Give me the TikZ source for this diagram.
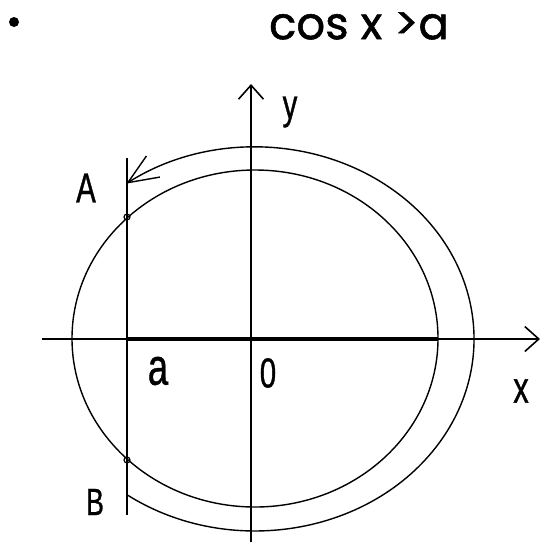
\documentclass[tikz,border=0pt]{standalone}
\usepackage{fontspec}
\setmainfont{Liberation Sans}
\newfontfamily\labelfont[FakeStretch=0.7, FakeBold=0.8]{Liberation Sans}
\newfontfamily\titlefont[FakeBold=1.2]{Poppins}
\usetikzlibrary{arrows.meta}

\begin{document}
\begin{tikzpicture}[x=1pt, y=-1pt,
  axis/.style={line width=1.6pt, -{Straight Barb[length=14pt, width=25pt]}},
  curve/.style={line width=1.4pt},
  turn/.style={line width=1.4pt, -{Straight Barb[length=30pt, width=25pt]}},
  interval/.style={line width=4.5pt},
  mark point/.style={line width=1.2pt},
  caption/.style={font=\labelfont\fontsize{42}{46}\selectfont, inner sep=0pt},
  heading/.style={font=\titlefont\fontsize{45}{50}\selectfont, inner sep=0pt}]
  \useasboundingbox (0,0) rectangle (543,542);
  % heading
  \node[circle, fill, inner sep=0pt, minimum size=10pt] (bullet) at (14,22) {};
  \node[heading] (title) at (359,26) {cos x >a};
  % axes
  \coordinate (xstart) at (42,339);
  \coordinate (xend) at (540,339);
  \coordinate (ystart) at (251,542);
  \coordinate (yend) at (251,84);
  \draw[axis] (xstart) -- (xend);
  \draw[axis] (ystart) -- (yend);
  % unit circle and line x = a
  \draw[curve] (255,338.5) ellipse[x radius=183, y radius=168.5];
  \coordinate (atop) at (127,158);
  \coordinate (abottom) at (127,515);
  \draw[curve] (atop) -- (abottom);
  \coordinate (ia) at (127,339);
  \coordinate (iend) at (438,339);
  \draw[interval] (ia) -- (iend);
  \coordinate (A) at (127,217);
  \coordinate (B) at (127,460);
  \draw[mark point] (A) circle[radius=3];
  \draw[mark point] (B) circle[radius=3];
  % direction of rotation
  \coordinate (turnstart) at (126.3,494.3);
  \draw[turn] (turnstart) arc[start angle=126, end angle=-126, x radius=219, y radius=192];
  % labels
  \node[caption] (labA) at (86,188) {A};
  \node[caption, font=\labelfont\fontsize{38}{42}\selectfont] (labB) at (95,502) {B};
  \node[caption, font=\labelfont\fontsize{52}{56}\selectfont] (laba) at (158,371) {a};
  \node[caption] (lab0) at (268,373) {0};
  \node[caption, font=\labelfont\fontsize{44}{48}\selectfont] (labx) at (521,391) {x};
  \node[caption] (laby) at (290,112) {y};
\end{tikzpicture}
\end{document}
